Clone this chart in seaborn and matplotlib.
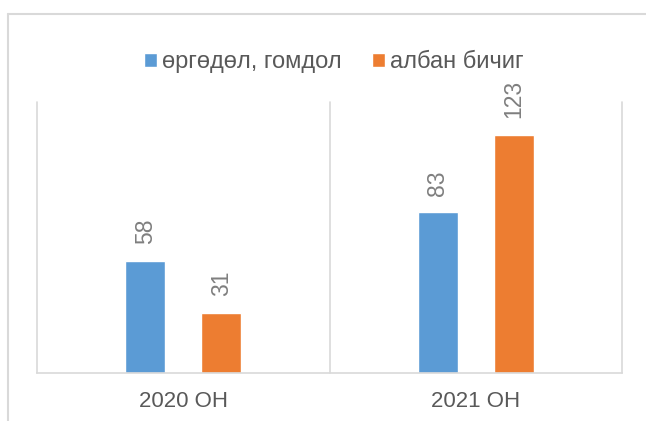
import pandas as pd
import numpy as np
import seaborn as sns
import matplotlib.pyplot as plt
from matplotlib.lines import Line2D

# Chart data
years = ['2020 ОН', '2021 ОН']
types = ['өргөдөл, гомдол', 'албан бичиг']
complaints = [58, 83]
letters = [31, 123]

df = pd.DataFrame({
    'year': years * 2,
    'type': [types[0]] * len(years) + [types[1]] * len(years),
    'count': complaints + letters,
})

sns.set_style('white')
plt.rcParams['font.family'] = ['Liberation Sans', 'DejaVu Sans']

W, H = 646, 421
fig = plt.figure(figsize=(W / 100, H / 100), dpi=100)
ax = fig.add_axes([37 / W, 1 - 373 / H, (622 - 37) / W, (373 - 102) / H])

sns.barplot(data=df, x='year', y='count', hue='type',
            palette=['#5B9BD5', '#ED7D31'], saturation=1,
            width=0.52, gap=0.475, errorbar=None, ax=ax)

for c in ax.containers:
    ax.bar_label(c, rotation=90, padding=12, color='#7F7F7F', fontsize=16.5)

ax.set_ylim(0, 140)
ax.set_xlim(-0.5, 1.5)
ax.set_yticks([])
ax.set_xlabel('')
ax.set_ylabel('')
for s in ['left', 'top', 'right']:
    ax.spines[s].set_visible(False)
ax.spines['bottom'].set_color('#D9D9D9')
ax.spines['bottom'].set_linewidth(1.2)
for x in [-0.5, 0.5, 1.5]:
    ax.axvline(x, color='#D9D9D9', lw=1.2, clip_on=False)
ax.tick_params(axis='x', length=0, pad=13, labelsize=16, labelcolor='#595959')

ax.legend(loc='center', bbox_to_anchor=(334 / W, 1 - 62 / H),
          bbox_transform=fig.transFigure, ncol=2, frameon=False,
          fontsize=17, handlelength=0.55, handleheight=0.55,
          handletextpad=0.2, columnspacing=1.3, labelcolor='#595959')

# outer chart border (cut at the right/bottom edge)
fig.add_artist(Line2D([8 / W, 8 / W], [0, 1 - 14 / H], transform=fig.transFigure,
                      color='#D9D9D9', lw=1.5))
fig.add_artist(Line2D([8 / W, 1], [1 - 14 / H, 1 - 14 / H], transform=fig.transFigure,
                      color='#D9D9D9', lw=1.5))

fig.savefig('out.png', dpi=100)
